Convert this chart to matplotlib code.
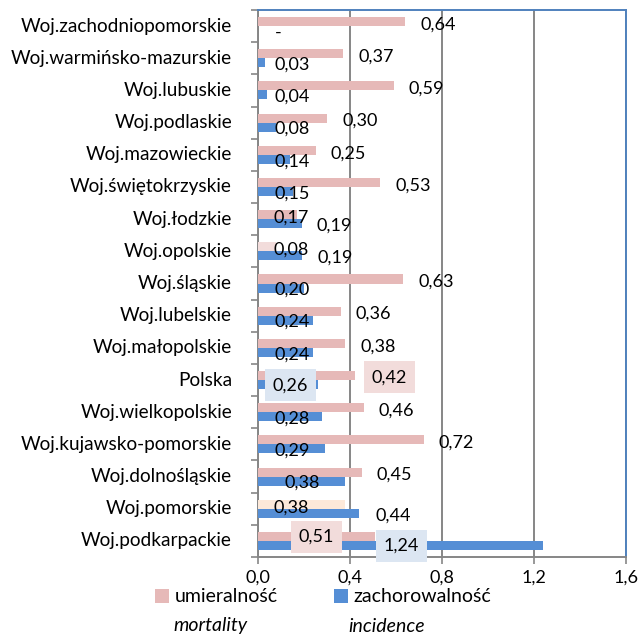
import numpy as np
import matplotlib
matplotlib.use("Agg")
import matplotlib.pyplot as plt
from matplotlib.patches import Patch
from matplotlib.transforms import blended_transform_factory

regions = [
    "Woj.zachodniopomorskie", "Woj.warmińsko-mazurskie", "Woj.lubuskie",
    "Woj.podlaskie", "Woj.mazowieckie", "Woj.świętokrzyskie", "Woj.łodzkie",
    "Woj.opolskie", "Woj.śląskie", "Woj.lubelskie", "Woj.małopolskie",
    "Polska", "Woj.wielkopolskie", "Woj.kujawsko-pomorskie",
    "Woj.dolnośląskie", "Woj.pomorskie", "Woj.podkarpackie",
]
mortality = [0.64, 0.37, 0.59, 0.30, 0.25, 0.53, 0.17, 0.08, 0.63,
             0.36, 0.38, 0.42, 0.46, 0.72, 0.45, 0.38, 0.51]
incidence = [None, 0.03, 0.04, 0.08, 0.14, 0.15, 0.19, 0.19, 0.20,
             0.24, 0.24, 0.26, 0.28, 0.29, 0.38, 0.44, 1.24]
xticks = [0.0, 0.4, 0.8, 1.2, 1.6]

PINK = "#E6B9B8"
BLUE = "#558ED5"

# label placement tweaks (as in the original, some labels were moved by hand)
m_inside = {"Woj.łodzkie", "Woj.opolskie", "Woj.pomorskie"}
i_shift = {"Woj.łodzkie": 0.065, "Woj.opolskie": 0.07, "Woj.pomorskie": 0.07}
boxed = {"Polska": ((0.571, -0.09), (0.141, 0.16)),
         "Woj.podkarpackie": ((0.255, -0.12), (0.624, 0.16))}
bar_face = {"Woj.opolskie": "#F2DCDB", "Woj.pomorskie": "#FDE9D9"}


def fmt(v):
    return "-" if v is None else f"{v:.2f}".replace(".", ",")


plt.rcParams["font.family"] = ["Lato", "DejaVu Sans"]

fig = plt.figure(figsize=(6.41, 6.37), dpi=100)
ax = fig.add_axes([258 / 641, 1 - 557 / 637, 368 / 641, 547 / 637])

y = np.arange(len(regions))
h = 0.28
m_colors = [bar_face.get(r, PINK) for r in regions]
ax.barh(y - h / 2, mortality, height=h, color=m_colors, zorder=3)
ax.barh(y + h / 2, [v or 0 for v in incidence], height=h, color=BLUE, zorder=3)

fs = 13
for i, r in enumerate(regions):
    m, v = mortality[i], incidence[i]
    if r in boxed:
        (mx, my), (ix, iy) = boxed[r]
        ax.text(mx, i + my, fmt(m), ha="center", va="center", fontsize=fs, zorder=5,
                bbox=dict(boxstyle="square,pad=0.45", fc="#F2DCDB", ec="none"))
        ax.text(ix, i + iy, fmt(v), ha="center", va="center", fontsize=fs, zorder=5,
                bbox=dict(boxstyle="square,pad=0.45", fc="#DCE6F2", ec="none"))
        continue
    mx = 0.066 if r in m_inside else m + 0.066
    ax.text(mx, i - 0.05, fmt(m), ha="left", va="center", fontsize=fs, zorder=5)
    if v is None:
        ax.text(0.075, i + 0.2, "-", ha="left", va="center", fontsize=fs, zorder=5)
    elif r == "Woj.dolnośląskie":
        ax.text(0.114, i + 0.2, fmt(v), ha="left", va="center", fontsize=fs, zorder=5)
    else:
        ix = v + i_shift[r] if r in i_shift else 0.07
        ax.text(ix, i + 0.2, fmt(v), ha="left", va="center", fontsize=fs, zorder=5)

ax.set_xlim(0, 1.6)
ax.set_ylim(len(regions) - 0.5, -0.5)
ax.set_xticks(xticks)
ax.set_xticklabels([fmt(t)[:3] for t in xticks], fontsize=fs)
ax.set_yticks(np.arange(len(regions) + 1) - 0.5)
ax.set_yticklabels([])
ax.tick_params(axis="y", length=5, color="#868686", width=1.2)
ax.tick_params(axis="x", length=5, color="#868686", width=1.2, pad=4)

# category names, right-aligned 26 px left of the axis
trans = blended_transform_factory(ax.transAxes, ax.transData)
for i, r in enumerate(regions):
    ax.text(-26 / 368, i, r, transform=trans, ha="right", va="center", fontsize=13.7)

ax.xaxis.grid(True, color="#868686", linewidth=1.4, zorder=0)
for s in ("left", "bottom"):
    ax.spines[s].set_color("#868686")
    ax.spines[s].set_linewidth(1.4)
for s in ("right", "top"):
    ax.spines[s].set_color("#4F81BD")
    ax.spines[s].set_linewidth(1.4)

handles = [Patch(fc=PINK, ec="none"), Patch(fc=BLUE, ec="none")]
fig.legend(handles, ["umieralność", "zachorowalność"], loc="center left",
           bbox_to_anchor=(155 / 641, 1 - 597 / 637), ncol=2, frameon=False,
           fontsize=14, handlelength=0.7, handleheight=0.7, handletextpad=0.3,
           columnspacing=2.9, borderpad=0, borderaxespad=0)
fig.text(173 / 641, 1 - 626 / 637, "mortality", style="italic", fontsize=14, va="center")
fig.text(348 / 641, 1 - 626 / 637, "incidence", style="italic", fontsize=14, va="center")

fig.savefig("out.png", dpi=100)
